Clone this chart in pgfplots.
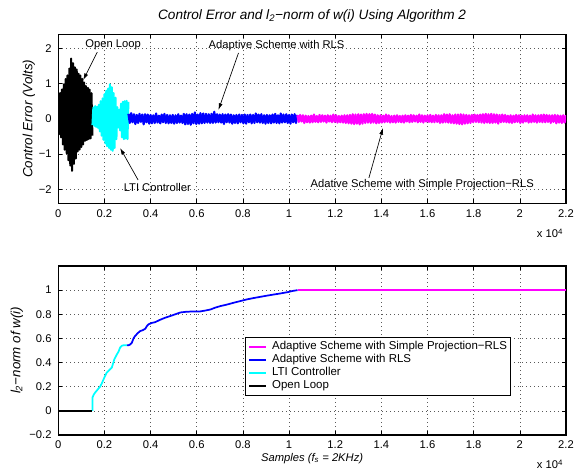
\documentclass[border=0pt]{standalone}
\usepackage{fontspec}
\setmainfont{Liberation Sans}
\usepackage{pgfplots}
\pgfplotsset{compat=1.18}
\usetikzlibrary{arrows.meta}

\definecolor{mcyan}{rgb}{0,1,1}
\definecolor{mmag}{rgb}{1,0,1}
\definecolor{mblue}{rgb}{0,0,1}

\newcommand{\tk}{\fontsize{8.4}{10}\selectfont}
\newcommand{\lb}{\fontsize{10}{12}\selectfont}

\tikzset{arr/.style={-{Latex[length=5pt,width=3pt]}, line width=0.5pt, black}}
\pgfplotsset{
  mstyle/.style={
    width=380.8pt, height=126.75pt, scale only axis,
    xmin=0, xmax=22000,
    xtick={0,2000,4000,6000,8000,10000,12000,14000,16000,18000,20000,22000},
    xticklabels={0,0.2,0.4,0.6,0.8,1,1.2,1.4,1.6,1.8,2,2.2},
    scaled x ticks=false, scaled y ticks=false,
    tick align=inside, tick pos=both, major tick length=3pt,
    grid=major,
    grid style={black!65, line width=0.45pt, dash pattern=on 0.6pt off 2.4pt},
    axis line style={line width=0.8pt},
    every tick/.style={black, line width=0.5pt},
    tick label style={font=\tk},
    xticklabel style={yshift=-1pt},
    yticklabel style={xshift=-1.5pt},
    clip mode=individual,
  },
}

\begin{document}
\begin{tikzpicture}

% ---------- top: control error ----------
\begin{axis}[mstyle, at={(0,173.8pt)}, anchor=south west,
  ymin=-2.4, ymax=2.4, ytick={-2,-1,0,1,2}, yticklabels={−2,−1,0,1,2},
  title={\itshape Control Error and l\textsubscript{2}−norm of w(i) Using Algorithm 2},
  title style={font=\fontsize{10.2}{12}\selectfont, at={([yshift=5pt]axis description cs:0.5,1)}, anchor=base},
  ylabel={\itshape Control Error (Volts)},
  ylabel style={font=\lb, at={([xshift=-22pt]axis description cs:0,0.5)}, anchor=center},
]
% open loop
\addplot[black, line width=1.5pt, line join=round] coordinates {
(0,0.66) (40,-0.43) (80,0.73) (120,-0.53) (160,0.83) (200,-0.73) (240,0.98) (280,-0.88)
(320,1.13) (360,-0.98) (400,1.23) (440,-1.18) (480,1.43) (520,-1.33) (560,1.71) (600,-1.48)
(640,1.58) (680,-1.28) (720,1.46) (760,-1.13) (800,1.4) (840,-0.93) (880,1.28) (920,-0.88)
(960,1.23) (1000,-0.8) (1040,1.13) (1080,-0.73) (1120,1.03) (1160,-0.63) (1200,0.93)
(1240,-0.6) (1280,0.88) (1320,-0.58) (1360,0.83) (1400,-0.56) (1440,0.73) (1480,-0.48)
};
% LTI controller
\addplot[mcyan, line width=1.5pt, line join=round] coordinates {
(1480,-0.18) (1520,0.32) (1560,-0.2) (1600,0.36) (1640,-0.23) (1680,0.34) (1720,-0.26)
(1760,0.4) (1800,-0.36) (1840,0.5) (1880,-0.48) (1920,0.58) (1960,-0.6) (2000,0.7)
(2040,-0.7) (2080,0.8) (2120,-0.78) (2160,0.86) (2200,-0.83) (2240,0.98) (2280,-0.88)
(2320,0.9) (2360,-0.91) (2400,0.73) (2440,-0.83) (2480,0.6) (2520,-0.58) (2560,0.33)
(2600,-0.25) (2640,0.26) (2680,-0.33) (2720,0.43) (2760,-0.53) (2800,0.48) (2840,-0.58)
(2880,0.5) (2920,-0.56) (2960,0.51) (3000,-0.58) (3040,0.48)
};
% adaptive RLS
\addplot[mblue, line width=1.6pt, line join=round] coordinates {
(3040,0.14) (3100,-0.12) (3160,0.16) (3220,-0.10) (3280,0.13) (3340,-0.15) (3400,0.11) (3460,-0.12)
(3520,0.14) (3580,-0.09) (3640,0.12) (3700,-0.16) (3760,0.13) (3820,-0.10) (3880,0.12) (3940,-0.14)
(4000,0.11) (4060,-0.13) (4120,0.10) (4180,-0.12)
(4240,0.15) (4300,-0.11) (4360,0.09) (4420,-0.13) (4480,0.12) (4540,-0.10) (4600,0.14) (4660,-0.12)
(4720,0.11) (4780,-0.13) (4840,0.10) (4900,-0.12) (4960,0.11) (5020,-0.14) (5080,0.10) (5140,-0.12)
(5200,0.13) (5260,-0.11) (5320,0.09) (5380,-0.12)
(5440,0.14) (5500,-0.16) (5560,0.13) (5620,-0.15) (5680,0.12) (5740,-0.17) (5800,0.14) (5860,-0.13)
(5920,0.18) (5980,-0.15) (6040,0.12) (6100,-0.14) (6160,0.16) (6220,-0.13) (6280,0.15) (6340,-0.12)
(6400,0.14) (6460,-0.11) (6520,0.13) (6580,-0.12)
(6640,0.14) (6700,-0.12) (6760,0.20) (6820,-0.11) (6880,0.13) (6940,-0.10) (7000,0.12) (7060,-0.11)
(7120,0.13) (7180,-0.15) (7240,0.12) (7300,-0.10) (7360,0.13) (7420,-0.11) (7480,0.12) (7540,-0.14)
(7600,0.10) (7660,-0.12) (7720,0.11) (7780,-0.13)
(7840,0.12) (7900,-0.10) (7960,0.11) (8020,-0.13) (8080,0.12) (8140,-0.14) (8200,0.11) (8260,-0.10)
(8320,0.12) (8380,-0.13) (8440,0.11) (8500,-0.12) (8560,0.15) (8620,-0.10) (8680,0.12) (8740,-0.11)
(8800,0.13) (8860,-0.12) (8920,0.10) (8980,-0.14)
(9040,0.11) (9100,-0.12) (9160,0.10) (9220,-0.13) (9280,0.12) (9340,-0.11) (9400,0.14) (9460,-0.12)
(9520,0.10) (9580,-0.13) (9640,0.15) (9700,-0.11) (9760,0.12) (9820,-0.10) (9880,0.13) (9940,-0.12)
(10000,0.11) (10060,-0.14) (10120,0.12) (10180,-0.10)
(10240,0.13) (10300,-0.12) (10360,0.11)
};
% adaptive simple projection RLS
\addplot[mmag, line width=1.6pt, line join=round] coordinates {
(10360,0.10) (10420,-0.09) (10480,0.11) (10540,-0.08) (10600,0.10) (10660,-0.12) (10720,0.09) (10780,-0.10)
(10840,0.08) (10900,-0.11) (10960,0.09) (11020,-0.10) (11080,0.12) (11140,-0.09) (11200,0.08) (11260,-0.10)
(11320,0.11) (11380,-0.09) (11440,0.10) (11500,-0.08)
(11560,0.09) (11620,-0.11) (11680,0.10) (11740,-0.08) (11800,0.09) (11860,-0.10) (11920,0.12) (11980,-0.09)
(12040,0.10) (12100,-0.11) (12160,0.08) (12220,-0.10) (12280,0.09) (12340,-0.11) (12400,0.10) (12460,-0.12)
(12520,0.10) (12580,-0.13) (12640,0.11) (12700,-0.14)
(12760,0.13) (12820,-0.15) (12880,0.12) (12940,-0.14) (13000,0.13) (13060,-0.16) (13120,0.12) (13180,-0.14)
(13240,0.13) (13300,-0.12) (13360,0.14) (13420,-0.11) (13480,0.13) (13540,-0.12) (13600,0.14) (13660,-0.11)
(13720,0.12) (13780,-0.13) (13840,0.10) (13900,-0.12)
(13960,0.10) (14020,-0.11) (14080,0.09) (14140,-0.10) (14200,0.12) (14260,-0.09) (14320,0.10) (14380,-0.11)
(14440,0.08) (14500,-0.10) (14560,0.09) (14620,-0.11) (14680,0.10) (14740,-0.09) (14800,0.08) (14860,-0.10)
(14920,0.09) (14980,-0.11) (15040,0.10) (15100,-0.08)
(15160,0.09) (15220,-0.10) (15280,0.11) (15340,-0.09) (15400,0.10) (15460,-0.08) (15520,0.09) (15580,-0.10)
(15640,0.12) (15700,-0.09) (15760,0.10) (15820,-0.11) (15880,0.09) (15940,-0.08) (16000,0.10) (16060,-0.09)
(16120,0.11) (16180,-0.10) (16240,0.09) (16300,-0.10)
(16360,0.11) (16420,-0.09) (16480,0.10) (16540,-0.12) (16600,0.10) (16660,-0.11) (16720,0.13) (16780,-0.10)
(16840,0.12) (16900,-0.11) (16960,0.13) (17020,-0.12) (17080,0.10) (17140,-0.13) (17200,0.12) (17260,-0.14)
(17320,0.12) (17380,-0.15) (17440,0.13) (17500,-0.16)
(17560,0.12) (17620,-0.14) (17680,0.11) (17740,-0.13) (17800,0.10) (17860,-0.12) (17920,0.11) (17980,-0.10)
(18040,0.12) (18100,-0.09) (18160,0.11) (18220,-0.10) (18280,0.12) (18340,-0.11) (18400,0.13) (18460,-0.12)
(18520,0.14) (18580,-0.11) (18640,0.13) (18700,-0.12)
(18760,0.14) (18820,-0.12) (18880,0.13) (18940,-0.11) (19000,0.12) (19060,-0.14) (19120,0.11) (19180,-0.10)
(19240,0.12) (19300,-0.09) (19360,0.11) (19420,-0.10) (19480,0.09) (19540,-0.11) (19600,0.10) (19660,-0.12)
(19720,0.09) (19780,-0.10) (19840,0.11) (19900,-0.09)
(19960,0.10) (20020,-0.12) (20080,0.09) (20140,-0.11) (20200,0.10) (20260,-0.08) (20320,0.10) (20380,-0.11)
(20440,0.09) (20500,-0.10) (20560,0.12) (20620,-0.09) (20680,0.10) (20740,-0.11) (20800,0.10) (20860,-0.09)
(20920,0.11) (20980,-0.10) (21040,0.12) (21100,-0.10)
(21160,0.11) (21220,-0.09) (21280,0.10) (21340,-0.12) (21400,0.10) (21460,-0.09) (21520,0.11) (21580,-0.13)
(21640,0.10) (21700,-0.11) (21760,0.09) (21820,-0.12) (21880,0.10) (21940,-0.11) (22000,0.10)
};
% annotations
\node[font=\tk] at (axis cs:2380,2.09) {Open Loop};
\draw[arr] (axis cs:1690,1.89) -- (axis cs:1080,1.10);
\node[font=\tk] at (axis cs:9460,2.09) {Adaptive Scheme with RLS};
\draw[arr] (axis cs:7810,1.87) -- (axis cs:6940,0.25);
\node[font=\tk] at (axis cs:4290,-1.96) {LTI Controller};
\draw[arr] (axis cs:3460,-1.74) -- (axis cs:2680,-0.83);
\node[font=\tk] at (axis cs:15770,-1.88) {Adative Scheme with Simple Projection−RLS};
\draw[arr] (axis cs:13460,-1.68) -- (axis cs:14070,-0.26);
\node[font=\tk, anchor=base east, inner sep=0pt] at ([xshift=-2pt,yshift=-26pt]axis description cs:1,0) {x 10\textsuperscript{4}};
\end{axis}

% ---------- bottom: l2-norm ----------
\begin{axis}[mstyle, at={(0,0)}, anchor=south west,
  ymin=-0.2, ymax=1.2, ytick={-0.2,0,0.2,0.4,0.6,0.8,1},
  yticklabels={−0.2,0,0.2,0.4,0.6,0.8,1},
  xlabel={\itshape Samples (f\textsubscript{s} = 2KHz)},
  xlabel style={font=\tk, at={([yshift=-20pt]axis description cs:0.5,0)}, anchor=base},
  ylabel={\itshape l\textsubscript{2}−norm of w(i)},
  ylabel style={font=\lb, at={([xshift=-31pt]axis description cs:0,0.5)}, anchor=center},
  legend style={at={(0.892,0.58)}, anchor=north east, font=\fontsize{8.6}{10}\selectfont, draw=black,
    line width=0.7pt, fill=white, inner sep=2pt, column sep=3pt,
    cells={anchor=west}, nodes={inner sep=0.75pt, text height=6.5pt, text depth=1.8pt}},
  legend image code/.code={\draw[#1, line width=1.5pt] (0pt,0pt) -- (12.75pt,0pt);},
]
\addplot[mmag, line width=1.3pt] coordinates {(10370,1.0) (22000,1.0)};
\addlegendentry{Adaptive Scheme with Simple Projection−RLS}
\addplot[mblue, line width=1.3pt] coordinates {
(2970,0.543) (3040,0.543) (3120,0.55) (3190,0.565) (3260,0.60) (3330,0.62) (3450,0.645)
(3550,0.661) (3660,0.668) (3770,0.68) (3850,0.705) (3910,0.717) (4050,0.728) (4200,0.735)
(4420,0.755) (4640,0.772) (4850,0.785) (5070,0.80) (5290,0.815) (5510,0.82) (5870,0.824)
(6160,0.824) (6400,0.832) (6600,0.84) (6800,0.855) (7030,0.868) (7300,0.88) (7610,0.896)
(7900,0.91) (8190,0.924) (8480,0.935) (8770,0.945) (9060,0.955) (9350,0.964) (9640,0.973)
(9930,0.983) (10150,0.993) (10370,1.0)
};
\addlegendentry{Adaptive Scheme with RLS}
\addplot[mcyan, line width=1.3pt] coordinates {
(1480,0) (1480,0.11) (1540,0.135) (1600,0.152) (1700,0.175) (1810,0.20) (1880,0.225)
(1960,0.26) (2030,0.29) (2100,0.317) (2200,0.335) (2320,0.358) (2370,0.39) (2430,0.427)
(2540,0.468) (2610,0.49) (2680,0.524) (2760,0.54) (2830,0.543) (2970,0.543)
};
\addlegendentry{LTI Controller}
\addplot[black, line width=1.3pt] coordinates {(0,0) (1480,0)};
\addlegendentry{Open Loop}
\node[font=\tk, anchor=base east, inner sep=0pt] at ([xshift=-2pt,yshift=-25.5pt]axis description cs:1,0) {x 10\textsuperscript{4}};
\end{axis}

\pgfresetboundingbox
\path[use as bounding box] (-43.7pt,-28.5pt) rectangle (386.8pt,326.25pt);
\end{tikzpicture}
\end{document}
